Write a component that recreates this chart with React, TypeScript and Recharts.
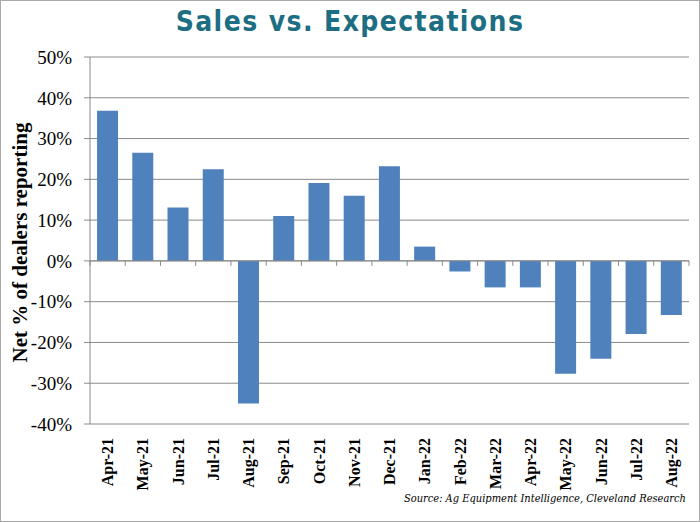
import { BarChart, Bar, XAxis, YAxis, CartesianGrid, ReferenceLine } from 'recharts';

const months = [
  'Apr-21', 'May-21', 'Jun-21', 'Jul-21', 'Aug-21', 'Sep-21', 'Oct-21', 'Nov-21', 'Dec-21',
  'Jan-22', 'Feb-22', 'Mar-22', 'Apr-22', 'May-22', 'Jun-22', 'Jul-22', 'Aug-22',
];
const netPercent = [
  36.8, 26.5, 13.1, 22.5, -35.0, 11.0, 19.1, 16.0, 23.2,
  3.5, -2.6, -6.5, -6.5, -27.7, -24.0, -17.9, -13.3,
];
const yTicks = [-40, -30, -20, -10, 0, 10, 20, 30, 40, 50];

const data = months.map((month, i) => ({ month, value: netPercent[i] }));

const AXIS_GRAY = '#8a8a8a';
const BAR_BLUE = '#4f81bd';
const SERIF = "'Liberation Serif', serif";

const MonthTick = ({ x, y, payload }: any) => (
  <text
    x={x}
    y={y}
    transform={`rotate(-90, ${x}, ${y})`}
    textAnchor="end"
    dy="0.35em"
    fontFamily={SERIF}
    fontWeight="bold"
    fontSize={16}
    fill="#000"
  >
    {payload.value}
  </text>
);

// zero line with small tick marks at each category boundary
const ZeroLine = ({ x1, y1, x2, y2 }: any) => {
  const step = (x2 - x1) / months.length;
  const marks = Array.from({ length: months.length + 1 }, (_, i) => x1 + i * step);
  return (
    <g>
      <line x1={x1} y1={y1} x2={x2} y2={y2} stroke={AXIS_GRAY} strokeWidth={1} />
      {marks.map((mx, i) => (
        <line key={i} x1={mx} y1={y1} x2={mx} y2={y1 + 5} stroke={AXIS_GRAY} strokeWidth={1} />
      ))}
    </g>
  );
};

const YTitle = ({ viewBox }: any) => {
  const cx = 20;
  const cy = viewBox.y + viewBox.height / 2 + 2;
  return (
    <text
      x={cx}
      y={cy}
      transform={`rotate(-90, ${cx}, ${cy})`}
      textAnchor="middle"
      dominantBaseline="central"
      fontFamily={SERIF}
      fontWeight="bold"
      fontSize={21}
      fill="#000"
    >
      Net % of dealers reporting
    </text>
  );
};

export default function App() {
  return (
    <div
      style={{
        position: 'absolute',
        left: 0,
        top: 0,
        width: 700,
        height: 522,
        boxSizing: 'border-box',
        border: '1px solid #a9a9a9',
        background: '#fff',
      }}
    >
      <div
        style={{
          position: 'absolute',
          left: 0,
          top: 4,
          width: 698,
          textAlign: 'center',
          fontFamily: "'DejaVu Sans Condensed', 'DejaVu Sans', sans-serif",
          fontWeight: 'bold',
          fontSize: 28,
          letterSpacing: 1.4,
          color: '#1d6e82',
        }}
      >
        Sales vs. Expectations
      </div>
      <div style={{ position: 'absolute', left: -1, top: -1 }}>
        <BarChart
          width={700}
          height={522}
          data={data}
          margin={{ top: 57, right: 11, bottom: 28, left: 0 }}
          barCategoryGap="20%"
        >
          <CartesianGrid vertical={false} stroke={AXIS_GRAY} strokeDasharray="" />
          <XAxis
            dataKey="month"
            axisLine={false}
            tickLine={false}
            interval={0}
            height={70}
            tick={<MonthTick />}
            tickMargin={8}
          />
          <YAxis
            domain={[-40, 50]}
            ticks={yTicks}
            width={90}
            interval={0}
            axisLine={{ stroke: AXIS_GRAY }}
            tickLine={{ stroke: AXIS_GRAY }}
            tickSize={6}
            tickMargin={12}
            tickFormatter={(v: number) => `${v}%`}
            tick={{ fontFamily: SERIF, fontSize: 19, fill: '#000' }}
            label={<YTitle />}
          />
          <ReferenceLine y={0} shape={<ZeroLine />} />
          <Bar dataKey="value" fill={BAR_BLUE} isAnimationActive={false} />
        </BarChart>
      </div>
      <div
        style={{
          position: 'absolute',
          right: 13,
          top: 491,
          fontFamily: "'DejaVu Serif Condensed', 'DejaVu Serif', serif",
          fontStyle: 'italic',
          fontSize: 11,
          color: '#000',
          whiteSpace: 'nowrap',
        }}
      >
        Source: Ag Equipment Intelligence, Cleveland Research
      </div>
    </div>
  );
}
